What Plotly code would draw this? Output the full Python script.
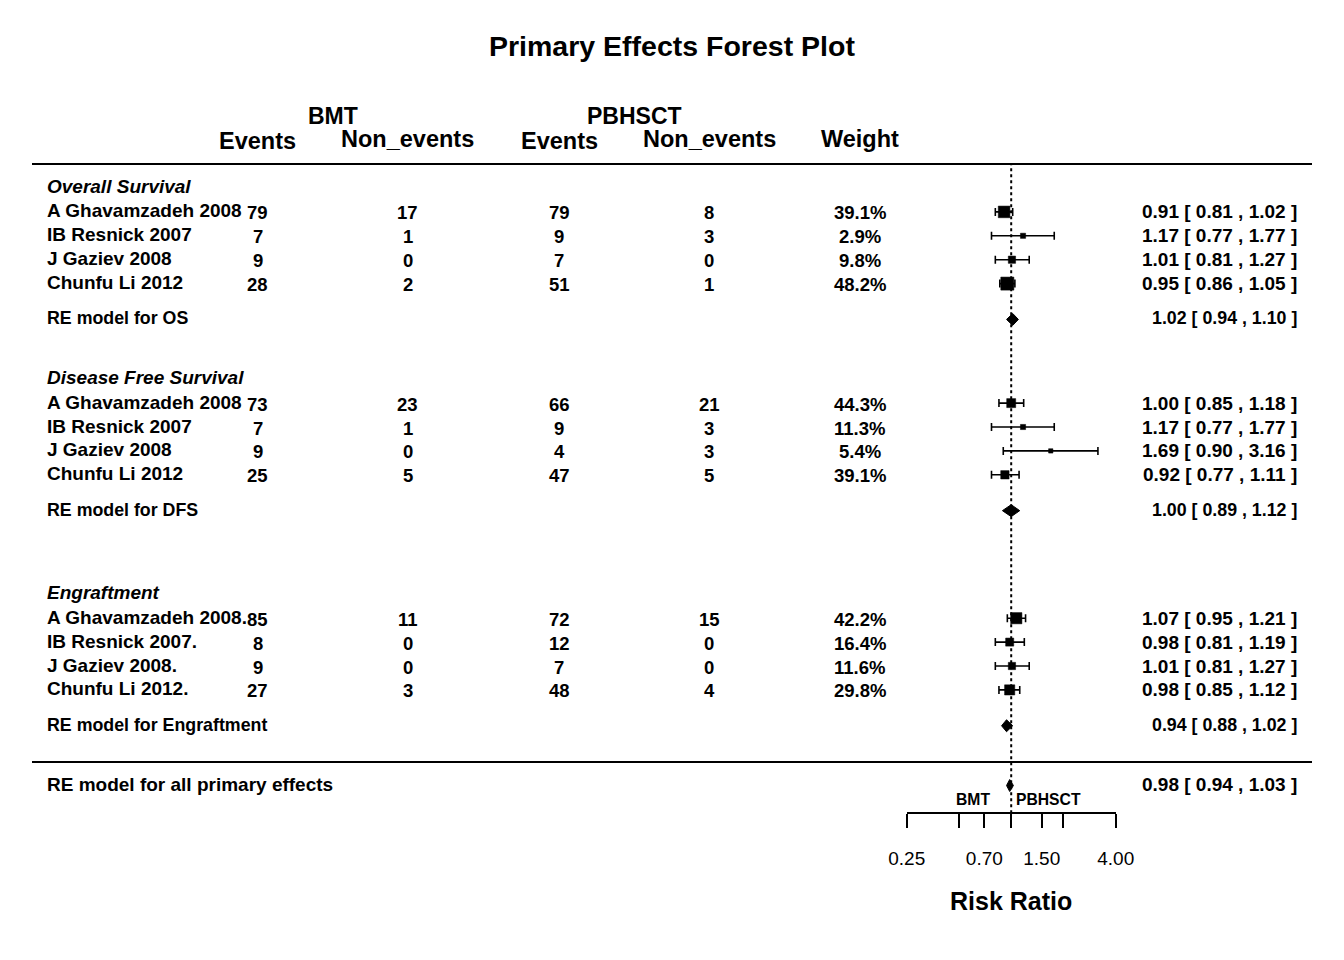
import numpy as np
import plotly.graph_objects as go

# ---------------- data ----------------
groups = ["Overall Survival", "Disease Free Survival", "Engraftment"]
studies = ["A Ghavamzadeh 2008", "IB Resnick 2007", "J Gaziev 2008", "Chunfu Li 2012",
           "A Ghavamzadeh 2008", "IB Resnick 2007", "J Gaziev 2008", "Chunfu Li 2012",
           "A Ghavamzadeh 2008.", "IB Resnick 2007.", "J Gaziev 2008.", "Chunfu Li 2012."]
bmt_events = [79, 7, 9, 28, 73, 7, 9, 25, 85, 8, 9, 27]
bmt_nonevents = [17, 1, 0, 2, 23, 1, 0, 5, 11, 0, 0, 3]
pb_events = [79, 9, 7, 51, 66, 9, 4, 47, 72, 12, 7, 48]
pb_nonevents = [8, 3, 0, 1, 21, 3, 3, 5, 15, 0, 0, 4]
weights = [39.1, 2.9, 9.8, 48.2, 44.3, 11.3, 5.4, 39.1, 42.2, 16.4, 11.6, 29.8]
rr = [0.91, 1.17, 1.01, 0.95, 1.00, 1.17, 1.69, 0.92, 1.07, 0.98, 1.01, 0.98]
rr_lo = [0.81, 0.77, 0.81, 0.86, 0.85, 0.77, 0.90, 0.77, 0.95, 0.81, 0.81, 0.85]
rr_hi = [1.02, 1.77, 1.27, 1.05, 1.18, 1.77, 3.16, 1.11, 1.21, 1.19, 1.27, 1.12]

re_labels = ["RE model for OS", "RE model for DFS", "RE model for Engraftment"]
re_est = [1.02, 1.00, 0.94]
re_lo = [0.94, 0.89, 0.88]
re_hi = [1.10, 1.12, 1.02]

overall_label = "RE model for all primary effects"
overall_est = 0.98
overall_lo = 0.94
overall_hi = 1.03

tick_vals = [0.25, 0.5, 0.7, 1.0, 1.5, 2.0, 4.0]
tick_text = ["0.25", "", "0.70", "", "1.50", "", "4.00"]

# ---------------- layout constants ----------------
W, H = 1344, 960
ROW0_PX = 785.5
ROW_PX = 23.9
study_rows = [24, 23, 22, 21, 16, 15, 14, 13, 7, 6, 5, 4]
group_rows = [25, 17, 8]
re_rows = [19.5, 11.5, 2.5]
overall_row = 0
FONT = "Liberation Sans, Arial, Helvetica, sans-serif"
LEFT_X = 45
RIGHT_X = 1299


def px2row(py):
    return (ROW0_PX - py) / ROW_PX


def xp(px):
    return px / W


annotations = []


def txt(x_px, row, s, size, anchor="center", weight="bold", style="normal", yshift=0):
    annotations.append(dict(
        x=xp(x_px), xref="paper", y=row, yref="y", text=s, showarrow=False,
        xanchor=anchor, yanchor="middle", yshift=yshift,
        font=dict(family=FONT, size=size, color="black", weight=weight, style=style)))


# title and headers
txt(672, px2row(46), "Primary Effects Forest Plot", 28.5)
txt(333, px2row(116), "BMT", 23)
txt(634, px2row(116), "PBHSCT", 23)
txt(257.5, px2row(141), "Events", 23.5)
txt(408, px2row(139), "Non_events", 23.5)
txt(559, px2row(141), "Events", 23.5)
txt(709, px2row(139), "Non_events", 23.5)
txt(860, px2row(139), "Weight", 23.5)

# group headings
for g, r in zip(groups, group_rows):
    txt(LEFT_X, r, g, 19, anchor="left", style="italic", yshift=2)

# study rows
cols = [257.5, 408, 559, 709]
for i, r in enumerate(study_rows):
    txt(LEFT_X, r, studies[i], 19, anchor="left", yshift=1)
    for cx, v in zip(cols, [bmt_events[i], bmt_nonevents[i], pb_events[i], pb_nonevents[i]]):
        txt(cx, r, str(v), 18.5, yshift=-1)
    txt(860, r, f"{weights[i]:.1f}%", 18.5, yshift=-1)
    txt(RIGHT_X, r, f"{rr[i]:.2f} [ {rr_lo[i]:.2f} , {rr_hi[i]:.2f} ]", 19, anchor="right")

# RE subgroup rows
for lab, r, e, lo, hi in zip(re_labels, re_rows, re_est, re_lo, re_hi):
    txt(LEFT_X, r, lab, 17.8, anchor="left", yshift=1)
    txt(RIGHT_X, r, f"{e:.2f} [ {lo:.2f} , {hi:.2f} ]", 17.8, anchor="right", yshift=1)

txt(LEFT_X, overall_row, overall_label, 19, anchor="left", yshift=1)
txt(RIGHT_X, overall_row, f"{overall_est:.2f} [ {overall_lo:.2f} , {overall_hi:.2f} ]", 19,
    anchor="right", yshift=1)

# small labels above axis and axis title
txt(973, px2row(799), "BMT", 15.7)
txt(1048.5, px2row(799), "PBHSCT", 15.7)
txt(1011, px2row(901), "Risk Ratio", 25)

# ---------------- marks ----------------
rr_a = np.array(rr)
lo_a = np.array(rr_lo)
hi_a = np.array(rr_hi)
inv_se = 3.92 / np.log(hi_a / lo_a)
psize = 0.5 + (inv_se - inv_se.min()) / (inv_se.max() - inv_se.min())
msize = 8.7 * psize

fig = go.Figure()
fig.add_trace(go.Scatter(
    x=rr, y=study_rows, mode="markers",
    marker=dict(symbol="square", size=msize, color="black", opacity=1,
                line=dict(width=0.5, color="black")),
    error_x=dict(type="data", symmetric=False, array=list(hi_a - rr_a),
                 arrayminus=list(rr_a - lo_a), width=4, thickness=1.6, color="black"),
    hoverinfo="skip", cliponaxis=False))

DH = 0.25
for r, e, lo, hi in list(zip(re_rows, re_est, re_lo, re_hi)) + [(overall_row, overall_est, overall_lo, overall_hi)]:
    fig.add_trace(go.Scatter(
        x=[lo, e, hi, e, lo], y=[r, r + DH, r, r - DH, r], mode="lines",
        fill="toself", fillcolor="black", line=dict(color="black", width=1),
        hoverinfo="skip"))

shapes = [
    dict(type="line", xref="paper", yref="y", x0=xp(32), x1=xp(1312), y0=26, y1=26,
         line=dict(color="black", width=2)),
    dict(type="line", xref="paper", yref="y", x0=xp(32), x1=xp(1312), y0=px2row(762), y1=px2row(762),
         line=dict(color="black", width=2)),
    dict(type="line", xref="x", yref="y", x0=1, x1=1, y0=px2row(813.3), y1=26,
         line=dict(color="black", width=2, dash="3px,3px"), layer="above"),
]

fig.update_layout(
    width=W, height=H, autosize=False,
    margin=dict(l=0, r=0, t=0, b=0, pad=0, autoexpand=False),
    paper_bgcolor="white", plot_bgcolor="white",
    showlegend=False,
    shapes=shapes, annotations=annotations,
    xaxis=dict(type="log", range=[np.log10(0.25), np.log10(4)],
               domain=[906.7 / W, 1115.7 / W], anchor="free", position=(H - 813.3) / H,
               showline=True, linecolor="black", linewidth=2, automargin=False,
               ticks="outside", ticklen=14, tickwidth=2, tickcolor="black",
               tickvals=tick_vals, ticktext=tick_text, ticklabelstandoff=14,
               tickfont=dict(family=FONT, size=19, color="black"),
               showgrid=False, zeroline=False, fixedrange=True),
    yaxis=dict(range=[px2row(H), px2row(0)], domain=[0, 1], visible=False, automargin=False,
               showgrid=False, zeroline=False, fixedrange=True),
)

fig.write_html("out.html")
